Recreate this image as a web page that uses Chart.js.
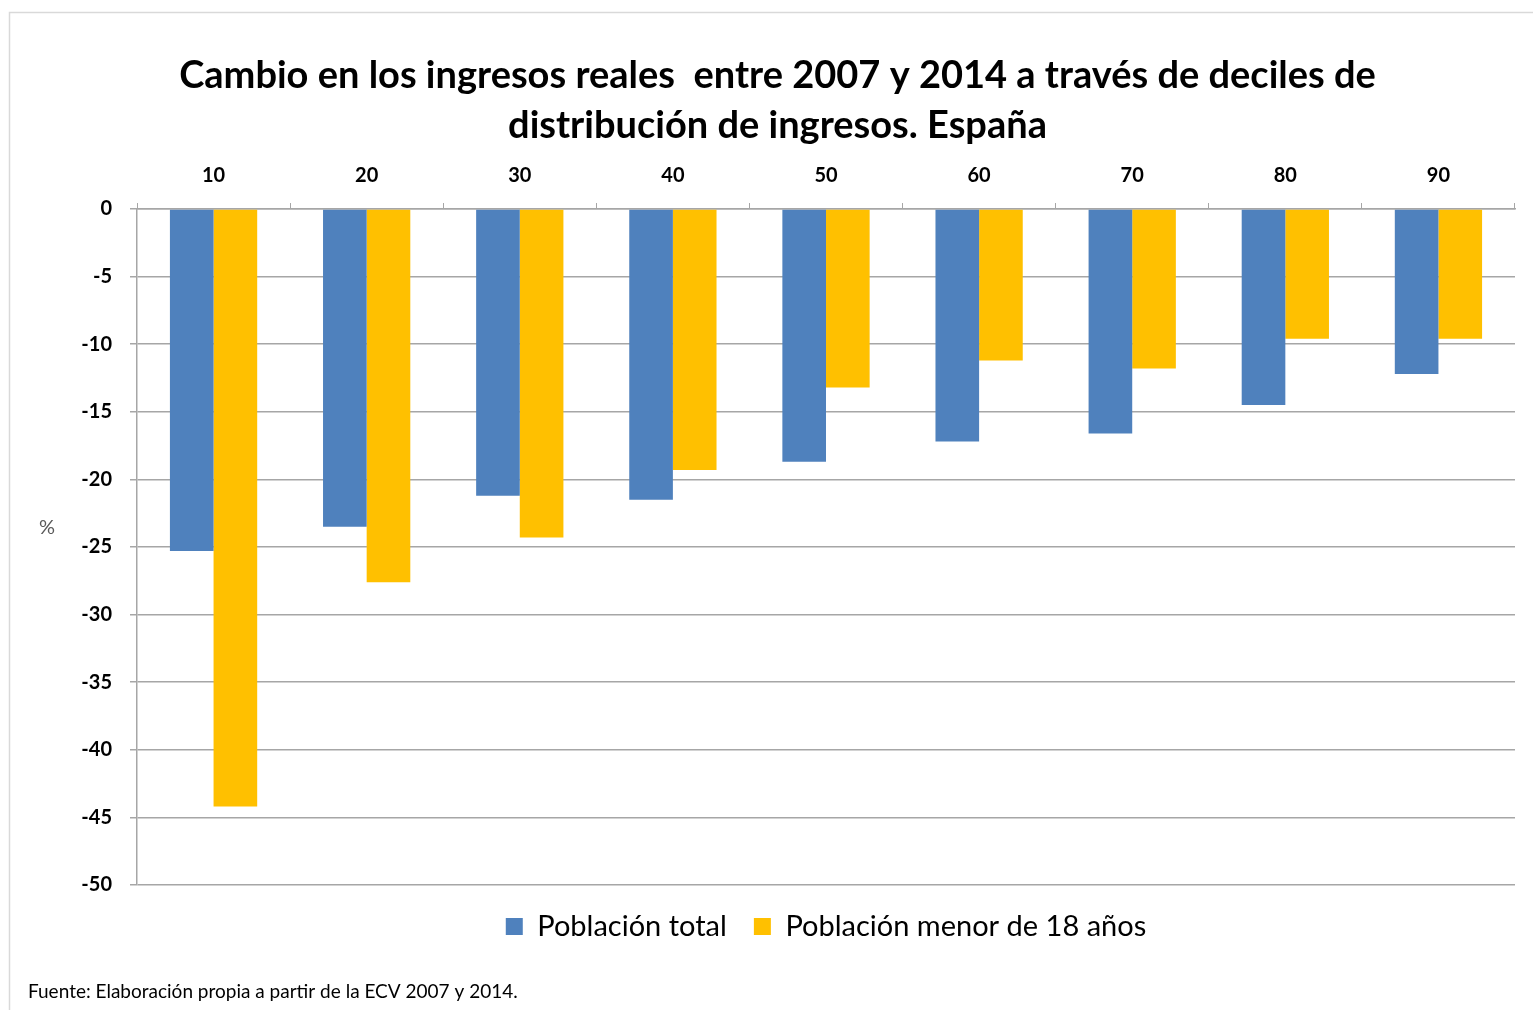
<!DOCTYPE html>
<html>
<head>
<meta charset="utf-8">
<script src="https://cdn.jsdelivr.net/npm/chart.js@4/dist/chart.umd.min.js"></script>
<style>
html,body{margin:0;padding:0;background:#fff;}
#wrap{position:relative;width:1533px;height:1010px;}
</style>
</head>
<body>
<div id="wrap"><canvas id="c" width="1533" height="1010"></canvas></div>
<script>
const categories = ['10','20','30','40','50','60','70','80','90'];
const poblacionTotal = [-25.3, -23.5, -21.2, -21.5, -18.7, -17.2, -16.6, -14.5, -12.2];
const poblacionMenor18 = [-44.2, -27.6, -24.3, -19.3, -13.2, -11.2, -11.8, -9.6, -9.6];
const seriesNames = ['Población total', 'Población menor de 18 años'];
const titleLines = ['Cambio en los ingresos reales  entre 2007 y 2014 a través de deciles de', 'distribución de ingresos. España'];
const yAxisLabel = '%';
const sourceNote = 'Fuente: Elaboración propia a partir de la ECV 2007 y 2014.';

const FONT = 'Lato, "Open Sans", sans-serif';

const extras = {
  id: 'extras',
  beforeDraw(chart) {
    const ctx = chart.ctx;
    ctx.save();
    ctx.fillStyle = '#fff';
    ctx.fillRect(0, 0, chart.width, chart.height);
    ctx.strokeStyle = '#d9d9d9';
    ctx.lineWidth = 1.5;
    ctx.beginPath();
    ctx.moveTo(9.5, 1010);
    ctx.lineTo(9.5, 12.5);
    ctx.lineTo(1533, 12.5);
    ctx.stroke();
    ctx.restore();
  },
  afterDraw(chart) {
    const ctx = chart.ctx;
    ctx.save();
    ctx.fillStyle = '#595959';
    ctx.font = '20px ' + FONT;
    ctx.textAlign = 'center';
    ctx.textBaseline = 'middle';
    ctx.fillText(yAxisLabel, 47, 528);
    ctx.fillStyle = '#000';
    ctx.font = '19px ' + FONT;
    ctx.textAlign = 'left';
    ctx.fillText(sourceNote, 28, 992);
    ctx.restore();
  }
};

new Chart(document.getElementById('c'), {
  type: 'bar',
  data: {
    labels: categories,
    datasets: [
      { label: seriesNames[0], data: poblacionTotal, backgroundColor: '#4f81bd', categoryPercentage: 0.57, barPercentage: 1.0 },
      { label: seriesNames[1], data: poblacionMenor18, backgroundColor: '#ffc000', categoryPercentage: 0.57, barPercentage: 1.0 }
    ]
  },
  options: {
    responsive: false,
    animation: false,
    layout: { padding: { left: 40, right: 18, top: 0, bottom: 59 } },
    plugins: {
      title: {
        display: true,
        text: titleLines,
        color: '#000',
        font: { family: FONT, size: 38, weight: 'bold', lineHeight: 1.316 },
        padding: { top: 51, bottom: 0 }
      },
      legend: {
        position: 'bottom',
        fullSize: false,
        labels: {
          color: '#000',
          font: { family: FONT, size: 29 },
          boxWidth: 17,
          boxHeight: 17,
          padding: 27
        }
      },
      tooltip: { enabled: false }
    },
    scales: {
      x: {
        position: 'top',
        offset: true,
        grid: { offset: true, drawOnChartArea: false, color: '#a6a6a6', tickLength: 6, tickColor: '#a6a6a6' },
        border: { color: '#a6a6a6', width: 1.5 },
        ticks: { color: '#000', font: { family: FONT, size: 20, weight: 'bold' }, padding: 15, maxRotation: 0 },
        afterFit(scale) { scale.height = 58; }
      },
      y: {
        min: -50,
        max: 0,
        ticks: { stepSize: 5, color: '#000', font: { family: FONT, size: 20, weight: 'bold' }, padding: 18 },
        grid: { color: '#a6a6a6', lineWidth: 1.5, tickLength: 7, drawTicks: true },
        border: { color: '#a6a6a6', width: 1.5 },
        afterFit(scale) { scale.width = 97; }
      }
    }
  },
  plugins: [extras]
});
</script>
</body>
</html>
